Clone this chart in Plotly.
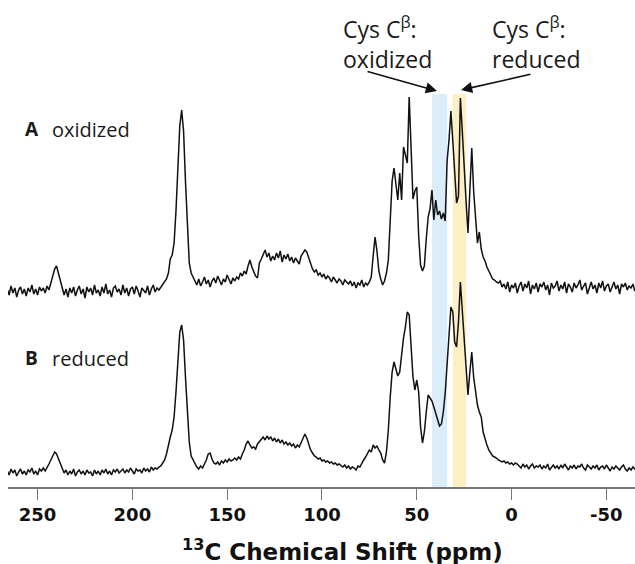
import numpy as np
import plotly.graph_objects as go

# ---------------- data ----------------
# chemical-shift grid (ppm), 1 ppm steps from 266 down to -66
ppm = np.arange(266, -67, -1)

# spectrum A (oxidized): intensity above its baseline (arbitrary units)
spec_A = [
    2, -4, 5, -2, 3, -6, 1, 4, -3, 2,          # 266..257
    -5, 3, -1, 6, -3, 2, -4, 4, 0, 3,          # 256..247
    -2, 5, 1, 8, 14, 22, 25, 17, 9, 3,         # 246..237
    -4, 2, -6, 3, -2, 4, -5, 1, 5, -3,         # 236..227
    2, -7, 4, -1, 3, -4, 6, -2, 1, -5,         # 226..217
    4, -2, 7, -3, 1, -6, 3, 5, -1, 2,          # 216..207
    -4, 6, -2, 3, -5, 2, 4, -3, 5, 0,          # 206..197
    -6, 3, 1, -2, 5, -4, 2, 6, -1, 3,          # 196..187
    1, 4, 6, 9, 12, 18, 32, 36, 48, 80,        # 186..177
    125, 165, 181, 160, 110, 60, 28, 18, 14, 10,  # 176..167
    6, 12, 5, 9, 14, 7, 11, 4, 10, 13,         # 166..157
    8, 15, 10, 6, 12, 9, 16, 11, 7, 13,        # 156..147
    10, 14, 12, 18, 15, 20, 17, 25, 31, 24,    # 146..137
    20, 15, 13, 28, 32, 36, 41, 34, 38, 30,    # 136..127
    35, 31, 38, 33, 40, 29, 36, 32, 37, 30,    # 126..117
    34, 28, 33, 30, 27, 35, 38, 41, 39, 33,    # 116..107
    26, 22, 19, 21, 16, 18, 14, 17, 12, 15,    # 106..97
    13, 9, 14, 11, 8, 12, 10, 6, 11, 9,        # 96..87
    7, 10, 5, 9, 3, 8, 6, 11, 4, 8,            # 86..77
    6, 9, 14, 35, 54, 40, 20, 12, 6, 10,       # 76..67
    18, 31, 70, 110, 123, 105, 91, 118, 91, 144,  # 66..57
    135, 128, 194, 150, 92, 100, 104, 55, 26, 20,  # 56..47
    25, 52, 74, 82, 101, 71, 91, 76, 80, 72,   # 46..37
    78, 70, 130, 151, 180, 150, 118, 88, 95, 193,  # 36..27
    160, 120, 90, 58, 100, 143, 100, 70, 48, 59,   # 26..17
    42, 34, 30, 24, 19, 16, 12, 11, 9, 8,      # 16..7
    10, 4, 7, 2, 9, -1, 6, 3, 8, -2,           # 6..-3
    5, 9, 0, 7, 3, 10, -3, 6, 2, 8,            # -4..-13
    -1, 7, 4, 9, 1, 6, -4, 8, 3, 5,            # -14..-23
    10, 0, 6, 2, 9, -2, 7, 4, -1, 8,           # -24..-33
    3, 6, 11, 1, 5, 8, -3, 4, 9, 2,            # -34..-43
    6, -2, 8, 3, 10, 0, 5, 7, -1, 4,           # -44..-53
    9, 2, 6, -3, 7, 4, 8, 1, 5, 3,             # -54..-63
    7, 0, 5,                                   # -64..-66
]

# spectrum B (reduced): intensity above its baseline (arbitrary units)
spec_B = [
    1, -3, 3, -1, 2, -4, 0, 3, -2, 1,          # 266..257
    -3, 2, 0, 4, -2, 1, -3, 3, 1, 4,           # 256..247
    1, 4, 8, 12, 17, 20, 18, 13, 7, 3,         # 246..237
    -1, 2, -3, 1, -2, 3, -4, 0, 2, -2,         # 236..227
    1, -3, 2, -1, 0, -4, 2, -2, 1, -3,         # 226..217
    2, -1, 3, -2, 1, -3, 2, 0, 3, -1,          # 216..207
    1, 3, -1, 2, 0, 4, 1, -2, 3, 1,            # 206..197
    2, -1, 4, 1, 3, 0, 5, 2, 4, 3,             # 196..187
    5, 6, 9, 12, 18, 28, 35, 42, 55, 80,       # 186..177
    112, 140, 147, 132, 95, 55, 30, 16, 12, 8,  # 176..167
    5, 3, 6, 4, 8, 12, 18, 19, 13, 9,          # 166..157
    8, 10, 7, 11, 9, 12, 10, 13, 11, 12,       # 156..147
    14, 12, 15, 13, 18, 22, 28, 31, 27, 24,    # 146..137
    25, 23, 28, 30, 33, 35, 32, 36, 33, 35,    # 136..127
    31, 34, 30, 33, 29, 32, 28, 30, 27, 29,    # 126..117
    26, 28, 24, 27, 25, 30, 35, 38, 34, 28,    # 116..107
    22, 19, 16, 15, 13, 14, 11, 12, 10, 11,    # 106..97
    9, 10, 8, 9, 7, 8, 6, 5, 7, 4,             # 96..87
    6, 3, 5, 4, 2, 6, 5, 9, 12, 15,            # 86..77
    18, 22, 20, 27, 24, 26, 22, 19, 12, 9,     # 76..67
    20, 42, 75, 100, 110, 103, 96, 100, 118, 134,  # 66..57
    145, 160, 157, 130, 95, 82, 92, 80, 45, 29,    # 56..47
    40, 60, 77, 74, 71, 65, 58, 52, 46, 48,    # 46..37
    60, 79, 110, 140, 165, 160, 130, 125, 150, 190,  # 36..27
    160, 128, 100, 77, 100, 120, 95, 80, 67, 60,     # 26..17
    55, 40, 33, 27, 22, 19, 16, 15, 14, 12,    # 16..7
    11, 10, 11, 9, 10, 8, 9, 7, 9, 8,          # 6..-3
    6, 4, 8, 5, 7, 3, 6, 8, 4, 6,              # -4..-13
    5, 7, 3, 6, 4, 8, 2, 5, 7, 4,              # -14..-23
    6, 3, 7, 4, 8, 5, 2, 6, 4, 7,              # -24..-33
    3, 6, 5, 8, 4, 2, 7, 5, 3, 6,              # -34..-43
    4, 7, 2, 5, 6, 3, 7, 4, 1, 5,              # -44..-53
    3, 6, 4, 2, 5, 7, 3, 1, 4, 2,              # -54..-63
    5, 3, 1,                                   # -64..-66
]

tick_vals = [250, 200, 150, 100, 50, 0, -50]
tick_text = ["250", "200", "150", "100", "50", "0", "-50"]

band_oxidized = (42, 34)   # Cys C-beta oxidized region (ppm)
band_reduced = (31, 24)    # Cys C-beta reduced region (ppm)

# ---------------- layout constants ----------------
W, H = 635, 564
ML, MB = 8, 77
PLOT_H = H - MB
X_RANGE = [265.6, -65.1]
OFFSET_A = 196   # vertical stacking of trace A
OFFSET_B = 15    # vertical stacking of trace B

def px2ppm(px):
    return X_RANGE[0] + (px - ML) * (X_RANGE[1] - X_RANGE[0]) / (W - ML)

def py2y(py):
    return PLOT_H - py

fig = go.Figure()

fig.add_trace(go.Scatter(x=ppm, y=np.array(spec_A) + OFFSET_A, mode="lines",
                         line=dict(color="#111111", width=1.5), showlegend=False))
fig.add_trace(go.Scatter(x=ppm, y=np.array(spec_B) + OFFSET_B, mode="lines",
                         line=dict(color="#111111", width=1.5), showlegend=False))

# highlight bands
fig.add_shape(type="rect", layer="below", xref="x", yref="y",
              x0=band_oxidized[0], x1=band_oxidized[1], y0=0, y1=py2y(94),
              fillcolor="#dcedfa", line=dict(width=0))
fig.add_shape(type="rect", layer="below", xref="x", yref="y",
              x0=band_reduced[0], x1=band_reduced[1], y0=0, y1=py2y(94),
              fillcolor="#fbefc3", line=dict(width=0))

label_font = dict(family="Open Sans", size=23, color="#1a1a1a")
fig.add_annotation(x=px2ppm(341), y=py2y(43), xref="x", yref="y",
                   text="Cys C<sup>β</sup>:<br>oxidized", showarrow=False,
                   xanchor="left", yanchor="middle", align="left", font=label_font)
fig.add_annotation(x=px2ppm(490), y=py2y(43), xref="x", yref="y",
                   text="Cys C<sup>β</sup>:<br>reduced", showarrow=False,
                   xanchor="left", yanchor="middle", align="left", font=label_font)

# arrows
fig.add_annotation(x=px2ppm(437), y=py2y(91), ax=px2ppm(366), ay=py2y(71),
                   xref="x", yref="y", axref="x", ayref="y", text="",
                   showarrow=True, arrowhead=2, arrowsize=1.4, arrowwidth=1.6,
                   arrowcolor="#111111", standoff=0)
fig.add_annotation(x=px2ppm(461), y=py2y(90), ax=px2ppm(532), ay=py2y(74),
                   xref="x", yref="y", axref="x", ayref="y", text="",
                   showarrow=True, arrowhead=2, arrowsize=1.4, arrowwidth=1.6,
                   arrowcolor="#111111", standoff=0)

# trace labels
for letter, word, pyc in [("A", "oxidized", 129), ("B", "reduced", 358)]:
    fig.add_annotation(x=px2ppm(23), y=py2y(pyc), xref="x", yref="y",
                       text=f"<b>{letter}</b>", showarrow=False, xanchor="left",
                       yanchor="middle", font=dict(family="Open Sans", size=19, color="#1a1a1a"))
    fig.add_annotation(x=px2ppm(50), y=py2y(pyc), xref="x", yref="y",
                       text=word, showarrow=False, xanchor="left",
                       yanchor="middle", font=dict(family="Open Sans", size=20, color="#1a1a1a"))

# axis title (placed below the axis, in paper coordinates)
fig.add_annotation(x=(342 - ML) / (W - ML), y=-(550 - PLOT_H) / PLOT_H,
                   xref="paper", yref="paper",
                   text="<sup>13</sup>C Chemical Shift (ppm)", showarrow=False,
                   xanchor="center", yanchor="middle",
                   font=dict(family="DejaVu Sans", size=23, color="#111111", weight="bold"))

fig.update_xaxes(range=X_RANGE, tickvals=tick_vals, ticktext=tick_text,
                 showline=True, linecolor="#777777", linewidth=1.5,
                 ticks="outside", ticklen=11, tickwidth=1.3, tickcolor="#777777",
                 tickfont=dict(family="DejaVu Sans", size=18, color="#111111", weight="bold"),
                 showgrid=False, zeroline=False)
fig.update_yaxes(range=[0, PLOT_H], visible=False, showgrid=False, zeroline=False)

fig.update_layout(width=W, height=H, margin=dict(l=ML, r=0, t=0, b=MB),
                  paper_bgcolor="white", plot_bgcolor="white", showlegend=False)

fig.write_html("out.html", config={"displayModeBar": False},
               post_script="document.body.style.margin='0px';document.body.style.padding='0px';")
